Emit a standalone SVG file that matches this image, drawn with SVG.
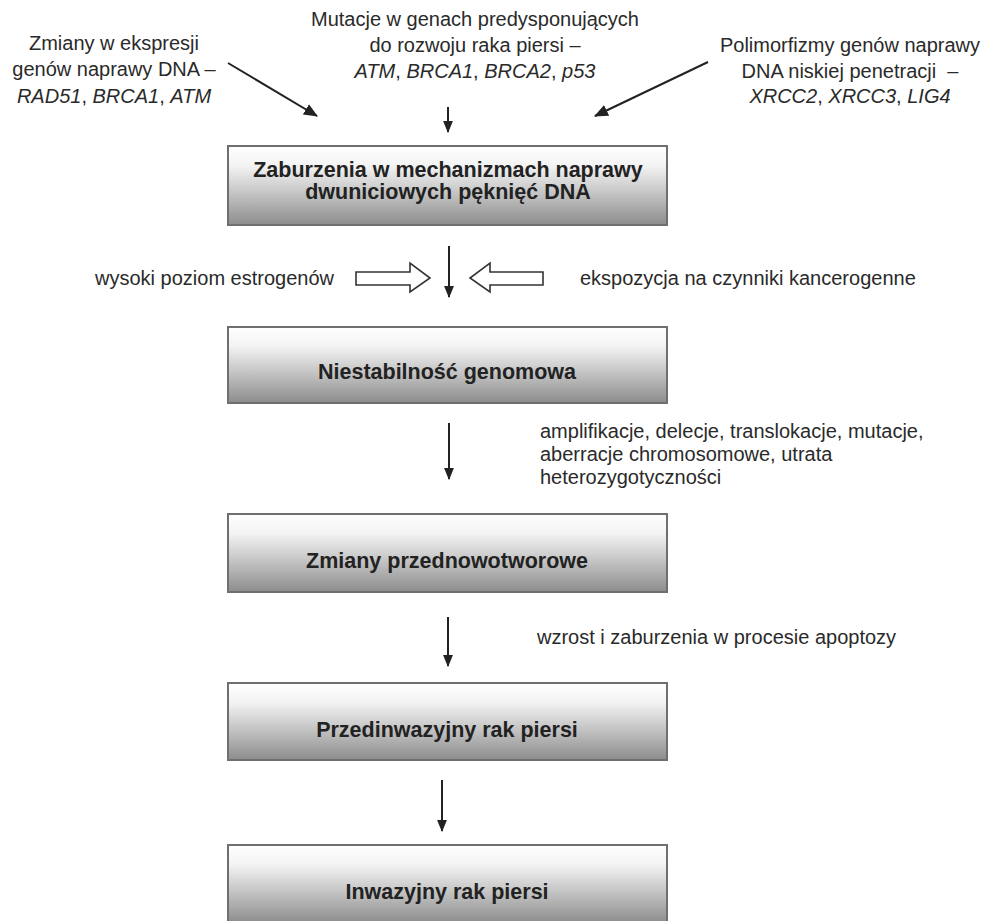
<svg xmlns="http://www.w3.org/2000/svg" width="986" height="921" viewBox="0 0 986 921">
<style>
.t{font-family:"Liberation Sans",Arial,sans-serif;font-size:20px;fill:#2a2a2a}
.c{text-anchor:middle}
.i{font-style:italic}
.b{font-family:"Liberation Sans",Arial,sans-serif;font-size:21.5px;font-weight:bold;fill:#222;text-anchor:middle}
.box{fill:url(#g);stroke:#6f6f6f;stroke-width:2}
.ln{stroke:#222;stroke-width:2;fill:none}
.blk{fill:#fff;stroke:#333;stroke-width:1.6;stroke-linejoin:miter}
</style>
<defs>
<linearGradient id="g" x1="0" y1="0" x2="0" y2="1">
<stop offset="0" stop-color="#ffffff"/>
<stop offset="0.25" stop-color="#f3f3f3"/>
<stop offset="0.6" stop-color="#c4c4c4"/>
<stop offset="1" stop-color="#8c8c8c"/>
</linearGradient>
<marker id="ah" markerUnits="userSpaceOnUse" markerWidth="12" markerHeight="12" viewBox="0 0 11 9" refX="10" refY="4.5" orient="auto">
<path d="M0,0 L11,4.5 L0,9 Z" fill="#222"/>
</marker>
<marker id="ah2" markerUnits="userSpaceOnUse" markerWidth="14" markerHeight="14" viewBox="0 0 13 11" refX="12" refY="5.5" orient="auto">
<path d="M0,0 L13,5.5 L0,11 Z" fill="#222"/>
</marker>
</defs>

<g id="src-left">
<text class="t c" x="114" y="50">Zmiany w ekspresji</text>
<text class="t c" x="114" y="76">genów naprawy DNA –</text>
<text class="t c i" x="114" y="103">RAD51<tspan font-style="normal">, </tspan>BRCA1<tspan font-style="normal">, </tspan>ATM</text>
</g>
<g id="src-center">
<text class="t c" x="475" y="26">Mutacje w genach predysponujących</text>
<text class="t c" x="475" y="52">do rozwoju raka piersi –</text>
<text class="t c i" x="475" y="78">ATM<tspan font-style="normal">, </tspan>BRCA1<tspan font-style="normal">, </tspan>BRCA2<tspan font-style="normal">, </tspan>p53</text>
</g>
<g id="src-right">
<text class="t c" x="850" y="52">Polimorfizmy genów naprawy</text>
<text class="t c" x="850" y="78" xml:space="preserve">DNA niskiej penetracji  –</text>
<text class="t c i" x="850" y="103">XRCC2<tspan font-style="normal">, </tspan>XRCC3<tspan font-style="normal">, </tspan>LIG4</text>
</g>

<g id="n1">
<rect class="box" x="228" y="146" width="439" height="79"/>
<text class="b" x="448" y="177">Zaburzenia w mechanizmach naprawy</text>
<text class="b" x="448" y="199">dwuniciowych pęknięć DNA</text>
</g>
<g id="n2">
<rect class="box" x="228" y="327" width="439" height="76"/>
<text class="b" x="447" y="379">Niestabilność genomowa</text>
</g>
<g id="n3">
<rect class="box" x="228" y="514" width="439" height="78"/>
<text class="b" x="447" y="568">Zmiany przednowotworowe</text>
</g>
<g id="n4">
<rect class="box" x="228" y="683" width="439" height="77"/>
<text class="b" x="447" y="737">Przedinwazyjny rak piersi</text>
</g>
<g id="n5">
<rect class="box" x="228" y="845" width="439" height="78"/>
<text class="b" x="447" y="899">Inwazyjny rak piersi</text>
</g>

<g id="factors">
<text class="t" x="95" y="285">wysoki poziom estrogenów</text>
<text class="t" x="580" y="285">ekspozycja na czynniki kancerogenne</text>
<text class="t" x="540" y="438">amplifikacje, delecje, translokacje, mutacje,</text>
<text class="t" x="540" y="461">aberracje chromosomowe, utrata</text>
<text class="t" x="540" y="484">heterozygotyczności</text>
<text class="t" x="537" y="644">wzrost i zaburzenia w procesie apoptozy</text>
</g>

<g id="connectors">
<line class="ln" x1="228" y1="63" x2="317" y2="116" marker-end="url(#ah2)"/>
<line class="ln" x1="708" y1="62" x2="595" y2="116" marker-end="url(#ah2)"/>
<line class="ln" x1="448" y1="107" x2="448" y2="132" marker-end="url(#ah)"/>
<line class="ln" x1="449" y1="246" x2="449" y2="297" marker-end="url(#ah)"/>
<path class="blk" d="M356,272 L410,272 L410,263 L430,278 L410,292 L410,285 L356,285 Z"/>
<path class="blk" d="M543,272 L490,272 L490,263 L470,278 L490,292 L490,285 L543,285 Z"/>
<line class="ln" x1="449" y1="423" x2="449" y2="479" marker-end="url(#ah)"/>
<line class="ln" x1="448" y1="617" x2="448" y2="666" marker-end="url(#ah)"/>
<line class="ln" x1="442" y1="780" x2="442" y2="831" marker-end="url(#ah)"/>
</g>
</svg>
